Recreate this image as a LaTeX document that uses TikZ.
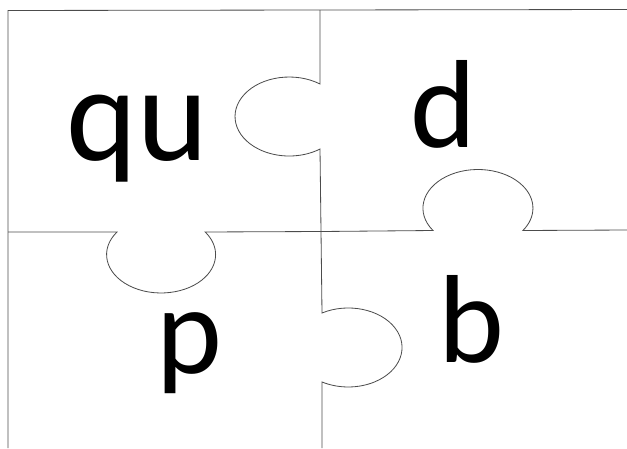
\documentclass[tikz,border=0pt]{standalone}
\usepackage{fontspec}
\setmainfont{Carlito}
\tikzset{
  cut/.style={draw=black!70,line width=0.7pt},
  letter/.style={anchor=base,inner sep=0pt,font=\fontsize{107}{107}\selectfont},
}
\begin{document}
\begin{tikzpicture}[x=0.03cm,y=-0.03cm]

\useasboundingbox (0,0) rectangle (627,448);

%%%%%%%%%%%%%%%%%%%%%%%%%%%%%%%%%%%%%%%%%%%%%%%%%%
% Outer edges
%%%%%%%%%%%%%%%%%%%%%%%%%%%%%%%%%%%%%%%%%%%%%%%%%%

\draw[cut] (8,448)--(8,10.5)--(320,10)--(627,9.5);

%%%%%%%%%%%%%%%%%%%%%%%%%%%%%%%%%%%%%%%%%%%%%%%%%%
% Vertical cut
%%%%%%%%%%%%%%%%%%%%%%%%%%%%%%%%%%%%%%%%%%%%%%%%%%

% Knob to the left (top), knob to the right (bottom)
\draw[cut]
(320,10)--(320,84)
arc[start angle=-55.4,end angle=-304.6,x radius=54.2,y radius=39.5]
--(322,313)
arc[start angle=-119.2,end angle=119.2,x radius=53.8,y radius=39.5]
--(322,448);

%%%%%%%%%%%%%%%%%%%%%%%%%%%%%%%%%%%%%%%%%%%%%%%%%%
% Horizontal cut
%%%%%%%%%%%%%%%%%%%%%%%%%%%%%%%%%%%%%%%%%%%%%%%%%%

% Left half, knob hanging down
\draw[cut]
(8,232)--(117,232)
arc[start angle=216,end angle=-36,x radius=54.5,y radius=38.4]
--(321,231.5);

% Right half, knob standing up
\draw[cut]
(321,231.5)--(433,230.5)
arc[start angle=144.8,end angle=395.2,x radius=55,y radius=38.7]
--(627,230);

%%%%%%%%%%%%%%%%%%%%%%%%%%%%%%%%%%%%%%%%%%%%%%%%%%
% Letters
%%%%%%%%%%%%%%%%%%%%%%%%%%%%%%%%%%%%%%%%%%%%%%%%%%

\node[letter,font=\fontsize{115}{115}\selectfont] (qu) at (137.5,160) {qu};
\node[letter] (d) at (443.5,147) {d};
\node[letter] (p) at (189,373) {p};
\node[letter] (b) at (471.5,362) {b};

\end{tikzpicture}
\end{document}
